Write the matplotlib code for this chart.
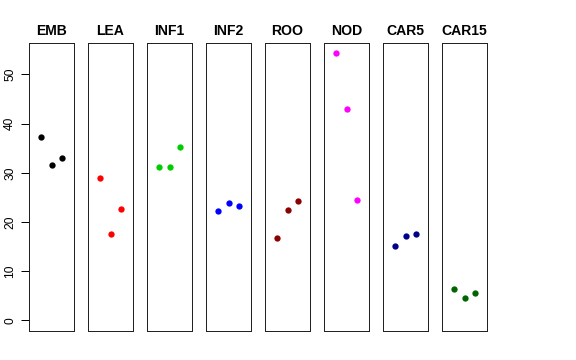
import matplotlib
matplotlib.use("Agg")
import matplotlib.pyplot as plt

groups = ["EMB", "LEA", "INF1", "INF2", "ROO", "NOD", "CAR5", "CAR15"]
colors = ["#000000", "#FF0000", "#00CD00", "#0000FF", "#8B0000", "#FF00FF", "#00008B", "#006400"]
values = {
    "EMB":   [37.3, 31.6, 33.0],
    "LEA":   [29.0, 17.6, 22.7],
    "INF1":  [31.1, 31.1, 35.2],
    "INF2":  [22.3, 23.9, 23.2],
    "ROO":   [16.8, 22.4, 24.3],
    "NOD":   [54.3, 43.0, 24.4],
    "CAR5":  [15.2, 17.1, 17.6],
    "CAR15": [6.3, 4.5, 5.5],
}
yticks = [0, 10, 20, 30, 40, 50]

plt.rcParams['font.family'] = ['Liberation Sans', 'DejaVu Sans']
W, H = 576, 360
fig = plt.figure(figsize=(W / 72, H / 72), dpi=72)

lefts = [29, 88, 147, 206, 265, 324, 383, 442]
top, bottom, width = 43, 331, 45
for i, g in enumerate(groups):
    ax = fig.add_axes([lefts[i] / W, (H - bottom) / H, width / W, (bottom - top) / H])
    ax.plot([1, 2, 3], values[g], 'o', color=colors[i], markersize=6.3, markeredgewidth=0)
    ax.set_xlim(-0.16, 4.16)
    ax.set_ylim(-2.17, 56.4)
    ax.set_xticks([])
    ax.set_title(g, fontsize=14, fontweight='bold', pad=8)
    for s in ax.spines.values():
        s.set_linewidth(1)
        s.set_color('#222222')
    if i == 0:
        ax.set_yticks(yticks)
        ax.set_yticklabels([str(t) for t in yticks], rotation=90, va='center', fontsize=12)
        ax.tick_params(axis='y', length=8, width=1, pad=5)
    else:
        ax.set_yticks([])

fig.savefig("out.png", dpi=72)
